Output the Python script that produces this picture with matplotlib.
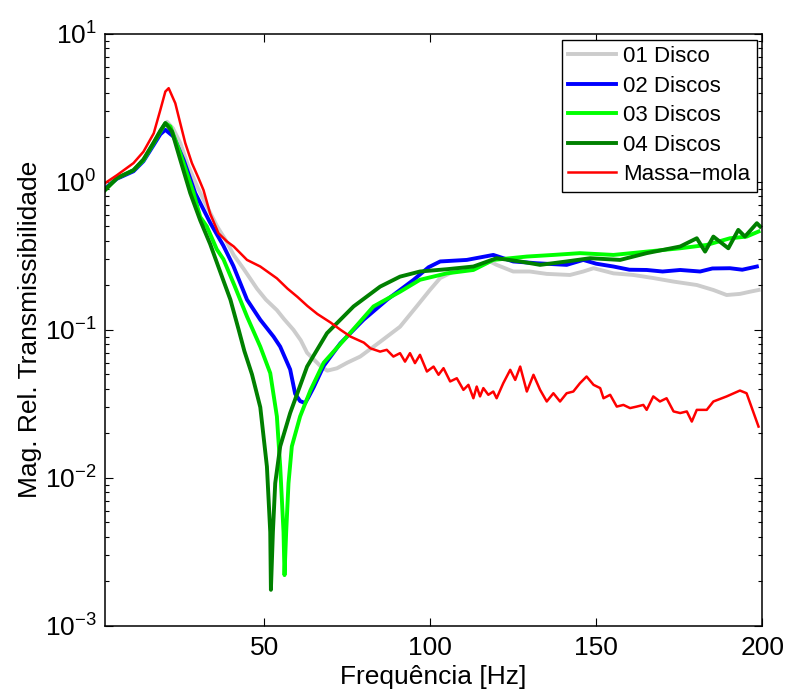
import matplotlib
matplotlib.use('Agg')
from matplotlib import pyplot as plt
from matplotlib import ticker

# data (frequency [Hz], relative transmissibility)
f_d1 = [2, 5.6, 10.6, 13.6, 16.7, 18.7, 20.7, 22.5, 24.7, 27, 29.8, 32.5, 35.8, 38.5,
        40.8, 43.7, 47.8, 50.5, 53.8, 56, 58.8, 61, 62.9, 66.9, 69, 71.9, 75, 78.9,
        84.9, 90.9, 95.9, 99.9, 103, 107, 113, 118, 120, 125, 130, 135.1, 142.1,
        146.1, 149.2, 155.2, 161.2, 167.2, 173.3, 180.3, 185.3, 189.3, 193.3, 196.3, 198.9]
v_d1 = [0.91, 1.06, 1.2, 1.4, 1.83, 2.2, 2.55, 2.3, 1.83, 1.3, 0.93, 0.7, 0.5, 0.4,
        0.32, 0.26, 0.19, 0.16, 0.136, 0.118, 0.1, 0.085, 0.07, 0.057, 0.053, 0.055,
        0.06, 0.066, 0.083, 0.105, 0.144, 0.186, 0.224, 0.248, 0.261, 0.29, 0.275,
        0.248, 0.248, 0.239, 0.235, 0.248, 0.261, 0.241, 0.235, 0.224, 0.212, 0.201,
        0.186, 0.172, 0.175, 0.181, 0.186]

f_d2 = [2, 5.6, 10.6, 13.6, 16.7, 18.7, 20.2, 22.7, 25.7, 29.2, 33.7, 37.7, 40.7,
        44.8, 48.8, 52.8, 54.8, 57.8, 59.3, 60.8, 62.3, 63.3, 64.9, 67.9, 72.9,
        79.9, 87, 95, 99.5, 103, 111, 119, 125, 132.1, 141.1, 146.1, 150, 155.2,
        160, 165.2, 170, 175.3, 181.3, 185, 190.3, 194, 198.4]
v_d2 = [0.9, 1.05, 1.18, 1.38, 1.78, 2.1, 2.25, 2.02, 1.41, 0.84, 0.53, 0.37, 0.27,
        0.16, 0.117, 0.09, 0.077, 0.054, 0.037, 0.033, 0.032, 0.035, 0.041, 0.057,
        0.081, 0.117, 0.16, 0.218, 0.265, 0.29, 0.297, 0.321, 0.29, 0.282, 0.275,
        0.297, 0.28, 0.268, 0.255, 0.254, 0.248, 0.254, 0.248, 0.26, 0.261, 0.255, 0.268]

f_d3 = [2, 5.6, 10.6, 13.6, 16.7, 18.7, 20.2, 21.7, 24.7, 28.7, 30.7, 32.7, 35.7,
        37.7, 41, 44.8, 48.8, 51.8, 53.8, 54.8, 55.8, 56.1, 56.6, 57.3, 58.3, 60.8,
        63.9, 67.9, 74.9, 82.9, 90.9, 96.9, 105, 113, 119, 129.1, 137.1, 145.1,
        155.2, 165.2, 175.3, 183.3, 190.3, 195.3, 198.9]
v_d3 = [0.88, 1.06, 1.2, 1.4, 1.83, 2.19, 2.49, 2.37, 1.56, 0.84, 0.58, 0.5, 0.35,
        0.3, 0.2, 0.123, 0.077, 0.051, 0.026, 0.0119, 0.0043, 0.0022, 0.0043, 0.0092,
        0.0163, 0.026, 0.039, 0.06, 0.09, 0.144, 0.181, 0.218, 0.241, 0.254, 0.297,
        0.313, 0.321, 0.33, 0.321, 0.338, 0.356, 0.375, 0.416, 0.427, 0.462]

f_d4 = [2, 5.6, 10.6, 13.6, 16.7, 18.7, 20.2, 22.2, 24.7, 27.7, 30.7, 33.7, 37.7,
        39.8, 42.3, 44, 46.3, 48.8, 50.8, 51.8, 52, 52.6, 53.3, 54.8, 57.8, 62.9,
        68.9, 76.9, 84.9, 90.9, 96.9, 105, 113, 120, 127.1, 133.1, 141.1, 148.2,
        157.2, 165.2, 175.3, 180.3, 182.8, 185.3, 189.8, 192.8, 194.8, 198.4, 199.4]
v_d4 = [0.88, 1.06, 1.2, 1.42, 1.85, 2.22, 2.5, 2.19, 1.41, 0.84, 0.55, 0.38, 0.215,
        0.16, 0.1, 0.072, 0.05, 0.03, 0.0119, 0.0043, 0.00175, 0.0043, 0.0092,
        0.0163, 0.0274, 0.0565, 0.095, 0.144, 0.196, 0.229, 0.248, 0.257, 0.268,
        0.305, 0.29, 0.275, 0.29, 0.305, 0.297, 0.33, 0.366, 0.416, 0.338, 0.427,
        0.356, 0.474, 0.427, 0.526, 0.499]

f_mm = [2, 5.6, 10.6, 13.6, 16.7, 18.7, 20.2, 21.2, 23.2, 24.7, 26.2, 28.2, 30.2,
        31.7, 33.7, 36.2, 38.8, 40.8, 44.8, 48.8, 53.8, 57, 60, 63, 66, 70, 73, 76,
        80, 82, 84.9, 86.9, 88.9, 90.9, 92.4, 93.9, 95.4, 96.9, 99, 101, 102.5, 104,
        106, 108, 110, 111.5, 113, 114, 115, 116, 117.5, 119, 120, 122, 124.1, 125.6,
        127.1, 129.1, 131.1, 133.1, 135.1, 137.1, 139.1, 141.1, 143.1, 145.1, 147.1,
        149.2, 151.2, 152.2, 154.2, 156.2, 158.2, 160.2, 162.2, 164.2, 165.2, 167.2,
        169.2, 171.2, 173.3, 175.3, 177.3, 178.8, 180.3, 183.3, 185.3, 189.3, 193.3,
        195.3, 198.9]
v_mm = [0.98, 1.11, 1.34, 1.6, 2.13, 3.07, 4.08, 4.3, 3.4, 2.49, 1.83, 1.34, 1.06,
        0.88, 0.61, 0.45, 0.395, 0.366, 0.297, 0.268, 0.223, 0.19, 0.167, 0.145,
        0.128, 0.112, 0.1, 0.09, 0.082, 0.075, 0.0713, 0.0733, 0.066, 0.0696, 0.061,
        0.0696, 0.0596, 0.0678, 0.0523, 0.0565, 0.0497, 0.0551, 0.0448, 0.0471,
        0.0393, 0.0425, 0.0345, 0.0414, 0.0355, 0.0404, 0.0364, 0.0383, 0.0345,
        0.0436, 0.0537, 0.0459, 0.0565, 0.0383, 0.0497, 0.0393, 0.0328, 0.0373,
        0.0328, 0.0373, 0.0383, 0.0436, 0.0484, 0.0425, 0.0404, 0.0345, 0.0364,
        0.0303, 0.0311, 0.0296, 0.0303, 0.0311, 0.0288, 0.0355, 0.0328, 0.0345,
        0.0281, 0.0274, 0.0281, 0.024, 0.0288, 0.0288, 0.0328, 0.0355, 0.0389,
        0.0373, 0.0222]

labels = ['01 Disco', '02 Discos', '03 Discos', '04 Discos', 'Massa\u2212mola']

plt.rcParams['font.family'] = ['Liberation Sans', 'DejaVu Sans']
plt.rcParams['mathtext.fontset'] = 'custom'
plt.rcParams['mathtext.rm'] = 'Liberation Sans'

fig = plt.figure(figsize=(7.89, 6.93), dpi=100)
ax = fig.add_axes([0.133, 0.097, 0.833, 0.854])

ax.plot(f_d1, v_d1, color=(0.8, 0.8, 0.8), lw=2.8, label=labels[0])
ax.plot(f_d2, v_d2, color=(0, 0, 1), lw=2.8, label=labels[1])
ax.plot(f_d3, v_d3, color=(0, 1, 0), lw=2.8, label=labels[2])
ax.plot(f_d4, v_d4, color=(0, 0.5, 0), lw=2.8, label=labels[3])
ax.plot(f_mm, v_mm, color=(1, 0, 0), lw=1.8, label=labels[4])

ax.set_yscale('log')
ax.set_xlim(2, 200)
ax.set_ylim(1e-3, 1e1)
ax.set_xticks([50, 100, 150, 200])
ax.yaxis.set_major_locator(ticker.LogLocator(base=10, numticks=10))
ax.yaxis.set_minor_locator(ticker.LogLocator(base=10, subs=range(2, 10), numticks=10))
ax.yaxis.set_minor_formatter(ticker.NullFormatter())

ax.tick_params(which='both', direction='in', top=True, right=True, labelsize=19)
ax.tick_params(which='major', length=6, width=0.8)
ax.tick_params(axis='x', pad=7)
ax.tick_params(axis='y', pad=6)
ax.tick_params(which='minor', length=3, width=0.8)
for s in ax.spines.values():
    s.set_linewidth(1.1)

ax.set_xlabel('Frequência [Hz]', fontsize=19, labelpad=4)
ax.set_ylabel('Mag. Rel. Transmissibilidade', fontsize=19, labelpad=2)

leg = ax.legend(loc='upper right', fontsize=16, fancybox=False, framealpha=1,
                edgecolor='black', handlelength=2.15, labelspacing=0.38,
                borderaxespad=0.25, handletextpad=0.3, borderpad=0.3)
leg.get_frame().set_linewidth(1.0)

fig.savefig('out.png', dpi=100)
